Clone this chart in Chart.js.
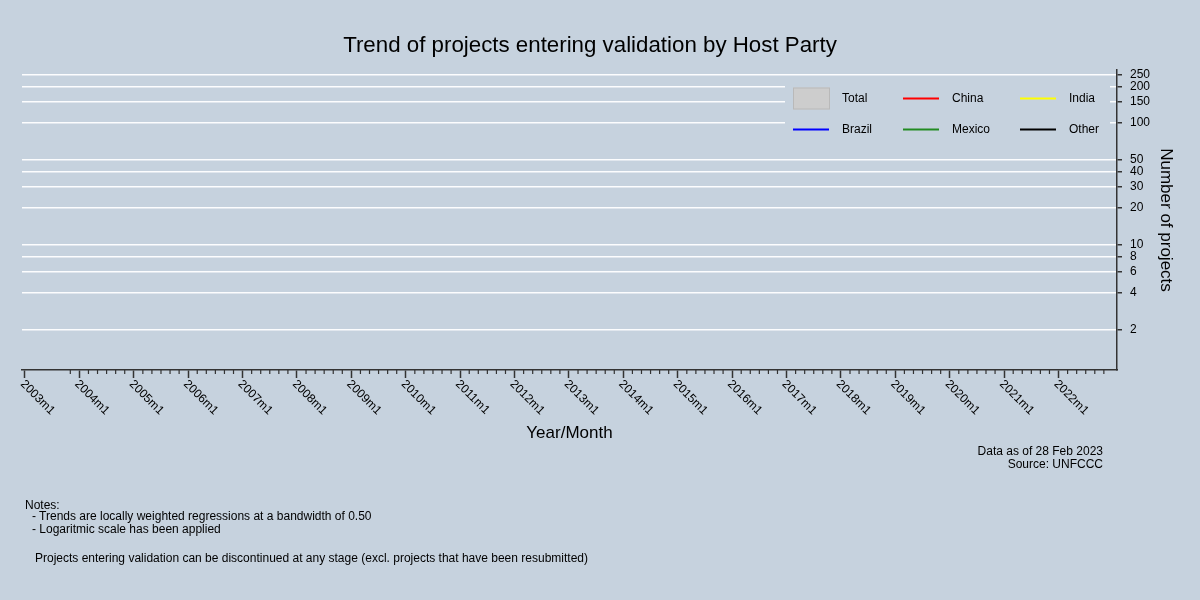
<!DOCTYPE html>
<html>
<head>
<meta charset="utf-8">
<script src="https://cdn.jsdelivr.net/npm/chart.js@4.4.1/dist/chart.umd.min.js"></script>
<style>
  html, body { margin: 0; padding: 0; background: #c6d2de; }
  #wrap { position: relative; width: 1200px; height: 600px; font-family: "Liberation Sans", Arial, sans-serif; font-size: 12px; color: #000; }
  canvas { position: absolute; left: 0; top: 0; }
  .txt { position: absolute; white-space: pre; line-height: 13px; }
  #title { position: absolute; left: 0; width: 1180px; top: 32px; text-align: center; font-size: 22.3px; line-height: 26px; }
</style>
</head>
<body>
<div id="wrap">
  <canvas id="trendChart" width="1200" height="600"></canvas>
  <div id="title">Trend of projects entering validation by Host Party</div>
  <div class="txt" style="right: 97px; top: 445px; text-align: right;">Data as of 28 Feb 2023
Source: UNFCCC</div>
  <div class="txt" style="left: 25px; top: 498.5px;">Notes:</div>
  <div class="txt" style="left: 32px; top: 509.5px;">- Trends are locally weighted regressions at a bandwidth of 0.50</div>
  <div class="txt" style="left: 32px; top: 523px;">- Logaritmic scale has been applied</div>
  <div class="txt" style="left: 35px; top: 551.5px;">Projects entering validation can be discontinued at any stage (excl. projects that have been resubmitted)</div>
</div>
<script>
const BG = '#c6d2de';

const seriesNames = ['Total', 'China', 'India', 'Brazil', 'Mexico', 'Other'];
const seriesColors = ['#cdcdcd', '#ff0000', '#ffff00', '#0000ff', '#228b22', '#000000'];

// the plot region of the reference holds no marks: every series is empty
const totalProjects = [];
const chinaProjects = [];
const indiaProjects = [];
const brazilProjects = [];
const mexicoProjects = [];
const otherProjects = [];

// x values are months since 2003m1
const tickYears = [2003, 2004, 2005, 2006, 2007, 2008, 2009, 2010, 2011, 2012,
                   2013, 2014, 2015, 2016, 2017, 2018, 2019, 2020, 2021, 2022];
const yTickValues = [2, 4, 6, 8, 10, 20, 30, 40, 50, 100, 150, 200, 250];

const seriesData = [totalProjects, chinaProjects, indiaProjects, brazilProjects, mexicoProjects, otherProjects];

const datasets = seriesNames.map((name, i) => ({
    type: i === 0 ? 'bar' : 'line',
    label: name,
    data: seriesData[i],
    backgroundColor: seriesColors[i],
    borderColor: i === 0 ? '#b9b9b9' : seriesColors[i],
    borderWidth: i === 0 ? 1 : 2,
    pointRadius: 0
}));

// rotated month labels and the minor ticks on the x axis
const xAxisExtras = {
    id: 'xAxisExtras',
    afterDraw(chart) {
        const ctx = chart.ctx;
        const x = chart.scales.x;
        const y0 = chart.chartArea.bottom;
        ctx.save();
        ctx.strokeStyle = '#333';
        ctx.lineWidth = 1.2;
        for (let m = 10; m <= 240; m += 2) {
            if (m % 12 === 0) continue;
            const px = x.getPixelForValue(m);
            ctx.beginPath();
            ctx.moveTo(px, y0);
            ctx.lineTo(px, y0 + 4);
            ctx.stroke();
        }
        ctx.fillStyle = '#000';
        ctx.font = '12px "Liberation Sans", Arial, sans-serif';
        ctx.textAlign = 'left';
        ctx.textBaseline = 'top';
        tickYears.forEach(yr => {
            const px = x.getPixelForValue((yr - 2003) * 12);
            ctx.save();
            ctx.translate(px + 1.5, y0 + 8);
            ctx.rotate(Math.PI / 4);
            ctx.fillText(yr + 'm1', 0, 0);
            ctx.restore();
        });
        ctx.restore();
    }
};

// legend boxed inside the top right of the plot
const innerLegend = {
    id: 'innerLegend',
    afterDraw(chart) {
        const ctx = chart.ctx;
        const cols = [793, 903, 1020];
        const rows = [98.5, 129.5];
        ctx.save();
        ctx.fillStyle = BG;
        ctx.fillRect(785, 78, 325, 72);
        ctx.font = '12px "Liberation Sans", Arial, sans-serif';
        ctx.textBaseline = 'middle';
        chart.data.datasets.forEach((ds, i) => {
            const cx = cols[i % 3];
            const cy = rows[Math.floor(i / 3)];
            if (ds.type === 'bar') {
                ctx.fillStyle = ds.backgroundColor;
                ctx.fillRect(cx, cy - 11, 37, 22);
                ctx.strokeStyle = ds.borderColor;
                ctx.lineWidth = 1;
                ctx.strokeRect(cx + 0.5, cy - 10.5, 36, 21);
            } else {
                ctx.strokeStyle = ds.borderColor;
                ctx.lineWidth = 2;
                ctx.beginPath();
                ctx.moveTo(cx, cy);
                ctx.lineTo(cx + 36, cy);
                ctx.stroke();
            }
            ctx.fillStyle = '#000';
            ctx.fillText(ds.label, cx + 49, cy);
        });
        ctx.restore();
    }
};

Chart.defaults.font.family = '"Liberation Sans", Arial, sans-serif';
Chart.defaults.color = '#000';

new Chart(document.getElementById('trendChart'), {
    data: { datasets: datasets },
    options: {
        responsive: false,
        animation: false,
        layout: { padding: { left: 22, right: 20, top: 70, bottom: 150 } },
        plugins: {
            legend: { display: false },
            tooltip: { enabled: false },
            title: { display: false }
        },
        scales: {
            x: {
                type: 'linear',
                position: 'bottom',
                offset: false,
                min: -0.66,
                max: 240.9,
                afterBuildTicks: scale => {
                    scale.ticks = tickYears.map(yr => ({ value: (yr - 2003) * 12 }));
                },
                afterFit: scale => { scale.height = 80; },
                ticks: { display: false },
                grid: {
                    display: true,
                    offset: false,
                    drawOnChartArea: false,
                    drawTicks: true,
                    tickLength: 8,
                    tickWidth: 1.5,
                    tickColor: '#333'
                },
                border: { display: true, color: '#333', width: 1.5 },
                title: {
                    display: true,
                    text: 'Year/Month',
                    font: { size: 17 },
                    color: '#000',
                    padding: { top: 0, bottom: 6.8 }
                }
            },
            y: {
                type: 'logarithmic',
                position: 'right',
                min: 0.93,
                max: 274,
                afterBuildTicks: scale => {
                    scale.ticks = yTickValues.map(v => ({ value: v }));
                },
                afterFit: scale => { scale.width = 63; },
                ticks: {
                    font: { size: 12 },
                    color: '#000',
                    padding: 8,
                    callback: v => String(v)
                },
                grid: {
                    color: 'rgba(255,255,255,0.95)',
                    lineWidth: 1.5,
                    drawTicks: true,
                    tickLength: 5,
                    tickWidth: 1.5,
                    tickColor: '#333'
                },
                border: { display: true, color: '#333', width: 1.5 },
                title: {
                    display: true,
                    text: 'Number of projects',
                    font: { size: 17 },
                    color: '#000',
                    padding: { top: 3.8, bottom: 0 }
                }
            }
        }
    },
    plugins: [xAxisExtras, innerLegend]
});
</script>
</body>
</html>
